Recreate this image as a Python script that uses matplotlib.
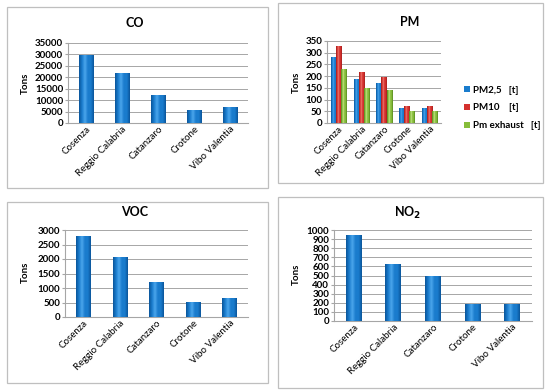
import matplotlib
matplotlib.use("Agg")
import matplotlib.pyplot as plt
import numpy as np
from matplotlib.colors import LinearSegmentedColormap
from matplotlib.patches import Rectangle

cities = ["Cosenza", "Reggio Calabria", "Catanzaro", "Crotone", "Vibo Valentia"]
co = [29700, 21700, 12300, 5500, 7000]
voc = [2780, 2060, 1200, 520, 650]
no2 = [940, 625, 490, 190, 190]
pm25 = [283, 188, 170, 65, 64]
pm10 = [327, 218, 195, 74, 73]
pmex = [230, 149, 142, 52, 50]
pm_labels = ["PM2,5   [t]", "PM10    [t]", "Pm exhaust   [t]"]

plt.rcParams['font.family'] = ['Lato', 'DejaVu Sans']

fig = plt.figure(figsize=(5.5, 3.91), dpi=100)
W, H = 550, 391

def fr(x, y, w, h):
    return [x / W, 1 - (y + h) / H, w / W, h / H]

# panel frames
for (x0, y0, x1, y1) in [(7, 7, 268, 188), (278, 3, 543, 183), (7, 202, 268, 383), (278, 197, 543, 388)]:
    fig.patches.append(Rectangle((x0 / W, 1 - y1 / H), (x1 - x0) / W, (y1 - y0) / H,
                                 transform=fig.transFigure, fill=False,
                                 edgecolor="#bfbfbf", linewidth=0.9))

def grad_cmap(c_dark, c_mid, c_light):
    return LinearSegmentedColormap.from_list("g", [c_dark, c_mid, c_light, c_mid, c_mid, c_dark])

blue_cm = grad_cmap("#0a559a", "#1a7ccd", "#4ba6ec")
red_cm = grad_cmap("#9e1c1a", "#d4312e", "#f07a72")
green_cm = grad_cmap("#4f7f1c", "#86bd3a", "#c3e386")

def gradient_bars(ax, bars, cmap):
    grad = np.linspace(0, 1, 64).reshape(1, -1)
    for b in bars:
        x, y = b.get_x(), b.get_y()
        w, h = b.get_width(), b.get_height()
        im = ax.imshow(grad, cmap=cmap, aspect="auto", extent=[x, x + w, y, y + h],
                       zorder=3, interpolation="bilinear")
        im.set_clip_path(b)

def style(ax, ymax, step, title, tx, ty):
    ax.set_ylim(0, ymax)
    ax.set_yticks(np.arange(0, ymax + 1, step))
    ax.yaxis.grid(True, color="#a6a6a6", linewidth=0.7)
    ax.set_axisbelow(True)
    for s in ["top", "right"]:
        ax.spines[s].set_visible(False)
    ax.spines["left"].set_color("#a6a6a6")
    ax.spines["bottom"].set_color("#a6a6a6")
    ax.tick_params(axis="y", length=2, color="#a6a6a6", labelsize=7, pad=1.5)
    ax.tick_params(axis="x", length=0, labelsize=7, pad=1)
    for lab in ax.get_yticklabels():
        lab.set_fontweight("bold")
    ax.set_xticks(range(len(cities)))
    ax.set_xticklabels(cities, rotation=45, ha="right", rotation_mode="anchor")
    ax.set_xlim(-0.5, len(cities) - 0.5)
    fig.text(tx / W, 1 - ty / H, title, ha="center", va="center", fontsize=9, fontweight="bold")

def ylabel(x, y):
    fig.text(x / W, 1 - y / H, "Tons", rotation=90, ha="center", va="center",
             fontsize=7, fontweight="bold")

# CO
ax1 = fig.add_axes(fr(68, 43, 180, 80))
b = ax1.bar(range(5), co, width=0.4, color="none", zorder=3)
gradient_bars(ax1, b, blue_cm)
style(ax1, 35000, 5000, "CO", 135, 23)
ylabel(25, 83)

# PM
ax2 = fig.add_axes(fr(327, 41, 114, 82))
x = np.arange(5)
bw = 0.22
for off, vals, cm, col, lab in [(-bw, pm25, blue_cm, "#1a7ccd", pm_labels[0]),
                                (0, pm10, red_cm, "#d4312e", pm_labels[1]),
                                (bw, pmex, green_cm, "#86bd3a", pm_labels[2])]:
    bb = ax2.bar(x + off, vals, width=bw, color=col, zorder=3, label=lab)
    gradient_bars(ax2, bb, cm)
style(ax2, 350, 50, "PM", 410, 22)
ylabel(296, 82)
leg = ax2.legend(loc="center left", bbox_to_anchor=(455 / W, 1 - 108 / H),
                 bbox_transform=fig.transFigure, frameon=False, fontsize=7,
                 handlelength=0.6, handleheight=0.6, handletextpad=0.4, labelspacing=0.9)
for t in leg.get_texts():
    t.set_fontweight("bold")

# VOC
ax3 = fig.add_axes(fr(65, 230, 183, 87))
b = ax3.bar(range(5), voc, width=0.4, color="none", zorder=3)
gradient_bars(ax3, b, blue_cm)
style(ax3, 3000, 500, "VOC", 135, 212)
ylabel(25, 272)

# NO2
ax4 = fig.add_axes(fr(334, 230, 198, 91))
b = ax4.bar(range(5), no2, width=0.4, color="none", zorder=3)
gradient_bars(ax4, b, blue_cm)
style(ax4, 1000, 100, r"NO$_\mathbf{2}$", 408, 213)
ylabel(296, 274)

fig.savefig("out.png", dpi=100)
